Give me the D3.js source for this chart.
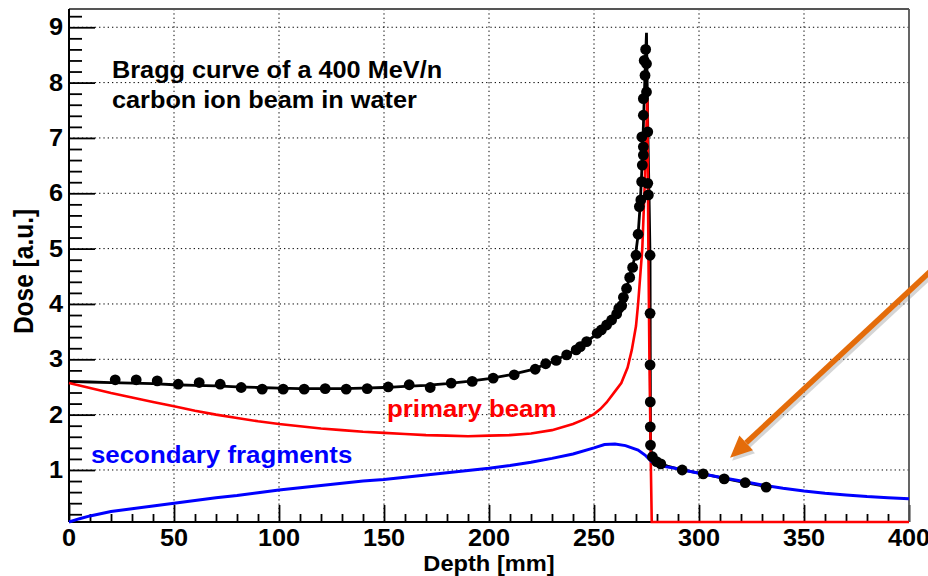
<!DOCTYPE html>
<html>
<head>
<meta charset="utf-8">
<script src="https://cdn.jsdelivr.net/npm/d3@7"></script>
<style>
  html, body { margin: 0; padding: 0; background: #fff; }
  svg { display: block; }
  text { font-family: "Liberation Sans", Arial, sans-serif; font-weight: bold; }
</style>
</head>
<body>
<svg id="chart" width="928" height="576"></svg>
<script>
// ---------------- DATA ----------------
const xTickValues = [0, 50, 100, 150, 200, 250, 300, 350, 400];
const yTickValues = [1, 2, 3, 4, 5, 6, 7, 8, 9];

// measured dose points (depth mm, dose a.u.)
const measuredDepth = [22, 32, 42, 52, 62, 72, 82, 92, 102, 112, 122, 132, 142, 152, 162, 172, 182, 192, 202, 212,
  222, 227, 232, 237, 241.5, 243.5, 246.5, 251.5, 253.5, 256, 258.4, 260.8, 261.8, 263.2, 264, 265.5, 267, 268.4,
  270, 271, 271.6, 272.3, 272.7, 273, 273.5, 273.5, 272.8, 273.5, 273.5, 274.3, 273.9, 274.6, 275, 275, 275.6,
  275.6, 275.9, 276.7, 276.7, 276.7, 276.8, 276.8, 276.9, 277.8, 279.8, 281.8, 292, 302, 312, 322, 332];
const measuredDose = [2.63, 2.63, 2.61, 2.55, 2.58, 2.55, 2.49, 2.46, 2.46, 2.46, 2.47, 2.46, 2.47, 2.50, 2.54, 2.49, 2.57, 2.60, 2.66, 2.72,
  2.82, 2.92, 2.98, 3.08, 3.17, 3.23, 3.32, 3.47, 3.53, 3.62, 3.71, 3.82, 3.92, 3.97, 4.12, 4.28, 4.48, 4.66,
  4.88, 5.26, 5.76, 5.88, 6.21, 6.51, 6.69, 6.84, 7.02, 7.41, 7.71, 8.13, 8.40, 8.60, 8.34, 7.83, 7.11,
  6.18, 5.97, 4.88, 3.83, 2.90, 2.23, 1.78, 1.45, 1.24, 1.15, 1.11, 1.00, 0.93, 0.84, 0.77, 0.69];

// total (fit) curve
const totalDepth = [0, 10, 20, 30, 40, 50, 60, 70, 80, 90, 100, 110, 120, 130, 140, 150, 160, 170, 180, 190, 200, 210,
  220, 230, 240, 250, 255, 260, 263, 266, 268.5, 270, 271, 272, 273, 274, 274.5, 275, 275.6, 276.2, 276.7, 276.8,
  276.9, 277.3, 278.5, 280.5, 282, 285, 292, 302, 312, 322, 332];
const totalDose = [2.60, 2.59, 2.58, 2.57, 2.56, 2.54, 2.53, 2.52, 2.50, 2.49, 2.48, 2.47, 2.47, 2.47, 2.48, 2.49, 2.51, 2.53, 2.56, 2.60, 2.65, 2.72,
  2.81, 2.95, 3.14, 3.42, 3.60, 3.82, 4.02, 4.35, 4.70, 4.95, 5.25, 5.80, 6.60, 7.80, 8.40, 8.90, 7.20, 6.00, 4.80, 3.00,
  1.60, 1.30, 1.20, 1.15, 1.11, 1.07, 1.00, 0.93, 0.85, 0.77, 0.70];

// primary beam
const primaryDepth = [0, 10, 20, 30, 40, 50, 60, 70, 80, 90, 100, 110, 120, 130, 140, 150, 160, 170, 180, 190, 200, 210,
  220, 230, 240, 245, 250, 253, 256, 260, 263, 266, 268, 270, 271, 272, 273, 274, 274.8, 275.4, 275.9, 276.4, 277.1,
  277.5, 300, 350, 400];
const primaryDose = [2.57, 2.48, 2.39, 2.31, 2.23, 2.15, 2.07, 2.00, 1.94, 1.88, 1.83, 1.79, 1.75, 1.72, 1.69, 1.67, 1.65, 1.63, 1.62, 1.61, 1.62, 1.63,
  1.66, 1.72, 1.83, 1.91, 2.01, 2.10, 2.22, 2.42, 2.57, 2.85, 3.17, 3.60, 4.00, 4.50, 5.00, 6.00, 7.00, 7.70, 5.00, 3.00, 1.00,
  0, 0, 0, 0];

// secondary fragments
const secondaryDepth = [0, 5, 10, 20, 30, 40, 50, 60, 70, 80, 90, 100, 110, 120, 130, 140, 150, 160, 170, 180, 190, 200,
  210, 220, 230, 240, 250, 255, 260, 265, 271, 274.3, 277.5, 283.8, 288.6, 300, 310, 320, 330, 340, 350, 360, 370, 380,
  390, 400];
const secondaryDose = [0.06, 0.12, 0.17, 0.25, 0.30, 0.35, 0.40, 0.45, 0.50, 0.54, 0.59, 0.64, 0.68, 0.72, 0.76, 0.80, 0.83, 0.87, 0.91, 0.95, 0.99, 1.03,
  1.08, 1.14, 1.21, 1.29, 1.40, 1.46, 1.47, 1.44, 1.36, 1.27, 1.15, 1.06, 1.03, 0.94, 0.87, 0.80, 0.73, 0.67, 0.62, 0.58, 0.55, 0.52,
  0.50, 0.48];

const titleLines = ["Bragg curve of a 400 MeV/n", "carbon ion beam in water"];
const xTitle = "Depth [mm]";
const yTitle = "Dose [a.u.]";
const primaryLabel = "primary beam";
const secondaryLabel = "secondary fragments";

// annotation arrow (data units): tail -> tip
const arrowFrom = [417, 4.83];
const arrowTo = [314.8, 1.22];

// ---------------- LAYOUT ----------------
const svg = d3.select("#chart");
const pLeft = 69, pRight = 909, pTop = 9, pBottom = 522;
const SX = 1.1; // horizontal glyph stretch

const x = d3.scaleLinear().domain([0, 400]).range([pLeft, pRight]);
const y = d3.scaleLinear().domain([0.06, 9.33]).range([pBottom, pTop]).clamp(true);

const zip = (a, b) => a.map((v, i) => [v, b[i]]);
const line = d3.line().x(d => x(d[0])).y(d => y(d[1]));

function label(g, text, px, py, size, anchor, color) {
  return g.append("text")
    .attr("transform", `translate(${px},${py}) scale(${SX},1)`)
    .attr("text-anchor", anchor)
    .attr("font-size", size)
    .attr("fill", color || "#000")
    .text(text);
}

svg.append("rect").attr("x", 0).attr("y", 0).attr("width", 928).attr("height", 576).attr("fill", "#fff");

// grid
const grid = svg.append("g").attr("stroke", "#000").attr("stroke-width", 1).attr("stroke-dasharray", "1.3,3");
grid.selectAll("line.gx").data(xTickValues.filter(v => v > 0 && v < 400)).join("line").attr("class", "gx")
  .attr("x1", d => x(d)).attr("x2", d => x(d)).attr("y1", pTop).attr("y2", pBottom);
grid.selectAll("line.gy").data(yTickValues).join("line").attr("class", "gy")
  .attr("x1", pLeft).attr("x2", pRight).attr("y1", d => y(d)).attr("y2", d => y(d));

// axes via d3
const xMinor = d3.range(0, 401, 10).filter(v => v % 50 !== 0);
const yMinor = d3.range(0.2, 9.33, 0.2).filter(v => Math.abs(v - Math.round(v)) > 1e-6);

const xAxisMajor = d3.axisTop(x).tickValues(xTickValues).tickSize(17).tickFormat("");
const xAxisMinor = d3.axisTop(x).tickValues(xMinor).tickSize(8).tickFormat("");
const yAxisMajor = d3.axisRight(y).tickValues(yTickValues).tickSize(26).tickFormat("");
const yAxisMinor = d3.axisRight(y).tickValues(yMinor).tickSize(13).tickFormat("");

function styleAxis(g) {
  g.select(".domain").remove();
  g.selectAll("line").attr("stroke", "#000").attr("stroke-width", 1.8);
}
svg.append("g").attr("transform", `translate(0,${pBottom})`).call(xAxisMajor).call(styleAxis);
svg.append("g").attr("transform", `translate(0,${pBottom})`).call(xAxisMinor).call(styleAxis);
svg.append("g").attr("transform", `translate(${pLeft},0)`).call(yAxisMajor).call(styleAxis);
svg.append("g").attr("transform", `translate(${pLeft},0)`).call(yAxisMinor).call(styleAxis);

// frame
svg.append("line").attr("x1", pLeft).attr("x2", pRight).attr("y1", pTop).attr("y2", pTop).attr("stroke", "#555").attr("stroke-width", 2);
svg.append("line").attr("x1", pRight).attr("x2", pRight).attr("y1", pTop).attr("y2", pBottom).attr("stroke", "#555").attr("stroke-width", 1.8);
svg.append("line").attr("x1", pLeft).attr("x2", pLeft).attr("y1", pTop).attr("y2", pBottom).attr("stroke", "#000").attr("stroke-width", 2);
svg.append("line").attr("x1", pLeft).attr("x2", pRight).attr("y1", pBottom).attr("y2", pBottom).attr("stroke", "#000").attr("stroke-width", 2);

// tick labels
const tl = svg.append("g");
xTickValues.forEach(v => label(tl, String(v), x(v), 546, 23, "middle"));
yTickValues.forEach(v => label(tl, String(v), 63, y(v) + 8, 23, "end"));

// axis titles
label(svg, xTitle, (pLeft + pRight) / 2, 571, 21.5, "middle");
svg.append("text")
  .attr("transform", `translate(33,${(pTop + pBottom) / 2 + 6}) rotate(-90) scale(1,${SX})`)
  .attr("text-anchor", "middle").attr("font-size", 24.5).attr("fill", "#000")
  .text(yTitle);

// curves
const plot = svg.append("g");
plot.append("path").datum(zip(totalDepth, totalDose)).attr("d", line)
  .attr("fill", "none").attr("stroke", "#000").attr("stroke-width", 2.8);
plot.append("path").datum(zip(primaryDepth, primaryDose)).attr("d", line)
  .attr("fill", "none").attr("stroke", "#ff0000").attr("stroke-width", 2.6);
plot.append("path").datum(zip(secondaryDepth, secondaryDose)).attr("d", line)
  .attr("fill", "none").attr("stroke", "#0000ff").attr("stroke-width", 3);
plot.selectAll("circle").data(zip(measuredDepth, measuredDose)).join("circle")
  .attr("cx", d => x(d[0])).attr("cy", d => y(d[1])).attr("r", 5.4).attr("fill", "#000");

// labels in plot
const tg = svg.append("g");
titleLines.forEach((t, i) => label(tg, t, 112, 78 + i * 29.5, 23, "start"));
label(tg, primaryLabel, 387, 417, 23.5, "start", "#ff0000");
label(tg, secondaryLabel, 91, 463, 23.5, "start", "#0000ff");

// orange annotation arrow
const ax0 = x(arrowFrom[0]), ay0 = y(arrowFrom[1]), ax1 = x(arrowTo[0]), ay1 = y(arrowTo[1]);
const ang = Math.atan2(ay1 - ay0, ax1 - ax0);
const headLen = 22, headW = 10;
const bx = ax1 - headLen * Math.cos(ang), by = ay1 - headLen * Math.sin(ang);
const nx = -Math.sin(ang), ny = Math.cos(ang);
function drawArrow(g, dx, dy, color, opacity) {
  g.append("line").attr("x1", ax0 + dx).attr("y1", ay0 + dy).attr("x2", bx + dx).attr("y2", by + dy)
    .attr("stroke", color).attr("stroke-width", 5.5).attr("opacity", opacity);
  g.append("polygon")
    .attr("points", [[ax1 + dx, ay1 + dy], [bx + nx * headW + dx, by + ny * headW + dy], [bx - nx * headW + dx, by - ny * headW + dy]].map(p => p.join(",")).join(" "))
    .attr("fill", color).attr("opacity", opacity);
}
const arrowG = svg.append("g");
drawArrow(arrowG, 2, 3, "#888", 0.35);
drawArrow(arrowG, 0, 0, "#e46c0a", 1);
</script>
</body>
</html>
